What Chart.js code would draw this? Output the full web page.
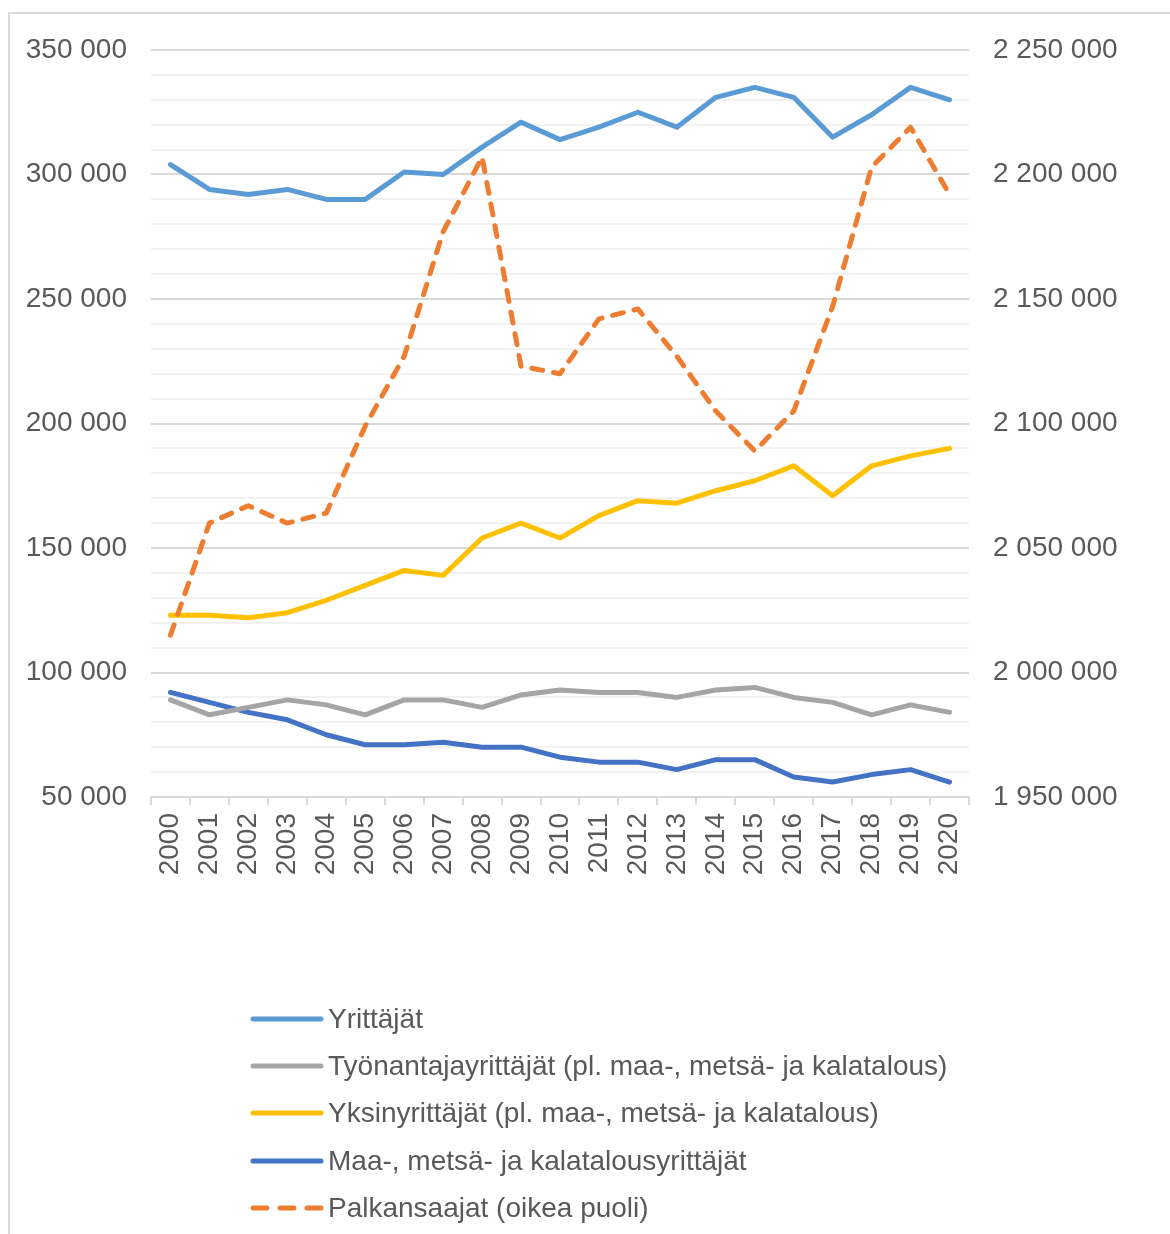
<!DOCTYPE html>
<html>
<head>
<meta charset="utf-8">
<script src="https://cdn.jsdelivr.net/npm/chart.js@4"></script>
<style>
	html, body { margin: 0; padding: 0; background: #fff; }
	body { width: 1170px; height: 1234px; position: relative; overflow: hidden; font-family: "Liberation Sans", Arial, sans-serif; }
	.frame { position: absolute; left: 8px; top: 12px; width: 1170px; height: 1240px; border-left: 2px solid #d9d9d9; border-top: 2px solid #d9d9d9; box-sizing: border-box; }
	.wrap { position: absolute; left: 0; top: 0; width: 1170px; height: 960px; }
	#legend { position: absolute; left: 250px; top: 995px; margin: 0; padding: 0; list-style: none; }
	#legend li { height: 47.3px; display: flex; align-items: center; font-size: 28px; color: #595959; }
	#legend canvas { margin-right: 2px; }
</style>
</head>
<body>
<div class="frame"></div>
<div class="wrap"><canvas id="chart"></canvas></div>
<ul id="legend"></ul>
<script>
// vuodet
const years = ['2000', '2001', '2002', '2003', '2004', '2005', '2006', '2007', '2008', '2009', '2010',
	'2011', '2012', '2013', '2014', '2015', '2016', '2017', '2018', '2019', '2020'];

// vasen akseli
const yrittajat = [304000, 294000, 292000, 294000, 290000, 290000, 301000, 300000, 311000, 321000, 314000,
	319000, 325000, 319000, 331000, 335000, 331000, 315000, 324000, 335000, 330000];
const tyonantajat = [89000, 83000, 86000, 89000, 87000, 83000, 89000, 89000, 86000, 91000, 93000,
	92000, 92000, 90000, 93000, 94000, 90000, 88000, 83000, 87000, 84000];
const yksinyrittajat = [123000, 123000, 122000, 124000, 129000, 135000, 141000, 139000, 154000, 160000, 154000,
	163000, 169000, 168000, 173000, 177000, 183000, 171000, 183000, 187000, 190000];
const maatalous = [92000, 88000, 84000, 81000, 75000, 71000, 71000, 72000, 70000, 70000, 66000,
	64000, 64000, 61000, 65000, 65000, 58000, 56000, 59000, 61000, 56000];

// oikea akseli
const palkansaajat = [2015000, 2060000, 2067000, 2060000, 2064000, 2099000, 2127000, 2177000, 2207000, 2123000, 2120000,
	2142000, 2146000, 2127000, 2105000, 2089000, 2105000, 2147000, 2203000, 2219000, 2192000];

const seriesNames = [
	'Yrittäjät',
	'Työnantajayrittäjät (pl. maa-, metsä- ja kalatalous)',
	'Yksinyrittäjät (pl. maa-, metsä- ja kalatalous)',
	'Maa-, metsä- ja kalatalousyrittäjät',
	'Palkansaajat (oikea puoli)'
];

const leftMin = 50000, leftMax = 350000;
const rightMin = 1950000, rightMax = 2250000;

// 350 000 muoto
function fmt(v) {
	return String(v).replace(/\B(?=(\d{3})+(?!\d))/g, ' ');
}

const tickFont = { family: '"Liberation Sans", Arial, sans-serif', size: 28 };
const textColor = '#595959';

function line(label, data, color, axis, extra) {
	return Object.assign({
		label: label,
		data: data,
		borderColor: color,
		backgroundColor: color,
		borderWidth: 5,
		pointRadius: 0,
		tension: 0,
		fill: false,
		yAxisID: axis,
		borderJoinStyle: 'round',
		borderCapStyle: 'round'
	}, extra || {});
}

const datasets = [
	line(seriesNames[0], yrittajat, '#5B9BD5', 'y', { order: 1 }),
	line(seriesNames[1], tyonantajat, '#A5A5A5', 'y', { order: 2 }),
	line(seriesNames[2], yksinyrittajat, '#FFC000', 'y', { order: 3 }),
	line(seriesNames[3], maatalous, '#4472C4', 'y', { order: 4 }),
	line(seriesNames[4], palkansaajat, '#ED7D31', 'y2', { order: 0, borderDash: [11, 11] })
];

const ctx = document.getElementById('chart').getContext('2d');
const chart = new Chart(ctx, {
	type: 'line',
	data: {
		labels: years,
		datasets: datasets
	},
	options: {
		responsive: true,
		maintainAspectRatio: false,
		animation: false,
		layout: {
			padding: { top: 50, left: 0, right: 0, bottom: 0 }
		},
		plugins: {
			legend: { display: false },
			tooltip: { enabled: false }
		},
		scales: {
			x: {
				offset: true,
				grid: {
					drawOnChartArea: false,
					drawTicks: true,
					tickLength: 8,
					color: '#d9d9d9',
					lineWidth: 2,
					offset: true
				},
				border: { color: '#d9d9d9', width: 2 },
				ticks: {
					color: textColor,
					font: tickFont,
					minRotation: 90,
					maxRotation: 90,
					autoSkip: false,
					padding: 8
				},
				afterFit: function(scale) { scale.height = 960 - 797; }
			},
			y: {
				position: 'left',
				min: leftMin,
				max: leftMax,
				grid: {
					drawTicks: false,
					lineWidth: 2,
					color: c => (c.tick && c.tick.value % 50000 === 0) ? '#d9d9d9' : '#f2f2f2'
				},
				border: { display: false },
				ticks: {
					stepSize: 10000,
					autoSkip: false,
					color: textColor,
					font: tickFont,
					padding: 24,
					callback: v => (v % 50000 === 0) ? fmt(v) : ''
				},
				afterFit: function(scale) { scale.width = 151; }
			},
			y2: {
				position: 'right',
				min: rightMin,
				max: rightMax,
				grid: { drawOnChartArea: false, drawTicks: false },
				border: { display: false },
				ticks: {
					stepSize: 50000,
					color: textColor,
					font: tickFont,
					padding: 24,
					callback: v => fmt(v)
				},
				afterFit: function(scale) { scale.width = 1170 - 969; }
			}
		}
	}
});

// selite
const legendEl = document.getElementById('legend');
chart.data.datasets.forEach(ds => {
	const li = document.createElement('li');
	const c = document.createElement('canvas');
	c.width = 76; c.height = 10;
	const g = c.getContext('2d');
	g.strokeStyle = ds.borderColor;
	g.lineWidth = 5;
	g.lineCap = 'round';
	if (ds.borderDash) g.setLineDash([14, 13]);
	g.beginPath();
	g.moveTo(3, 5);
	g.lineTo(71, 5);
	g.stroke();
	li.appendChild(c);
	li.appendChild(document.createTextNode(ds.label));
	legendEl.appendChild(li);
});
</script>
</body>
</html>
